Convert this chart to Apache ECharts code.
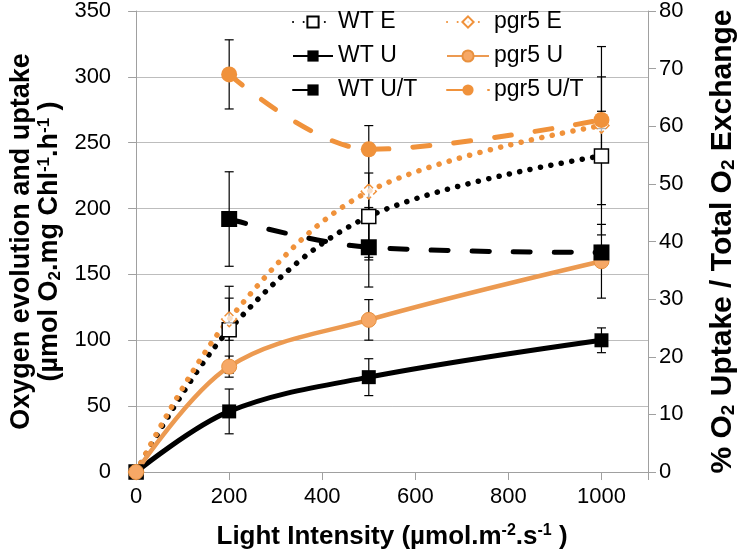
<!DOCTYPE html>
<html><head><meta charset="utf-8">
<script src="https://cdn.jsdelivr.net/npm/echarts@6/dist/echarts.min.js"></script>
<style>html,body{margin:0;padding:0;background:#fff}#c{width:746px;height:556px}</style>
</head><body><div id="c"></div>
<script>
// ---- data ----
const lightX = [0, 200, 500, 1000];
const ratioX = [200, 500, 1000];

const wtE = [0, 108, 194, 240];
const wtU = [0, 46, 72, 100];
const pgr5E = [0, 116, 213, 263];
const pgr5U = [0, 80, 115.5, 160];

const wtUT = [43.9, 39.0, 38.1];
const pgr5UT = [69.0, 56.0, 61.1];

const wtEErr = [0, 33, 33, 60];
const wtUErr = [0, 17, 14, 9.4];
const pgr5EErr = [0, 16, 50, 60];
const pgr5UErr = [0, 8, 15.4, 28];
const wtUTErr = [8.2, 6.9, 1.2];
const pgr5UTErr = [6, 1, 1.5];

const leftTicks = {min: 0, max: 350, interval: 50};
const rightTicks = {min: 0, max: 80, interval: 10};
const xTicks = {min: 0, max: 1100, interval: 200};

// ---- styling ----
const FONT = '"Liberation Sans", Arial, sans-serif';
const ORANGE = '#F0923B';
const AXIS_GRAY = '#A0A0A0';

function pairs(xs, ys) { return xs.map((x, i) => [x, ys[i]]); }
function bars(xs, ys, es) {
  const out = [];
  xs.forEach((x, i) => { if (es[i] > 0) out.push([x, ys[i] - es[i], ys[i] + es[i]]); });
  return out;
}
function errRender(params, api) {
  const x = api.value(0);
  const lo = api.coord([x, api.value(1)]);
  const hi = api.coord([x, api.value(2)]);
  const hw = 4.5;
  const style = {stroke: '#000', lineWidth: 1.2};
  return {type: 'group', children: [
    {type: 'line', shape: {x1: lo[0], y1: lo[1], x2: hi[0], y2: hi[1]}, style},
    {type: 'line', shape: {x1: lo[0] - hw, y1: lo[1], x2: lo[0] + hw, y2: lo[1]}, style},
    {type: 'line', shape: {x1: hi[0] - hw, y1: hi[1], x2: hi[0] + hw, y2: hi[1]}, style}
  ]};
}

function richName(size) {
  const bold = {fontFamily: FONT, fontWeight: 'bold', color: '#000'};
  return {
    b: Object.assign({fontSize: size, lineHeight: size + 1}, bold),
    sub: Object.assign({fontSize: Math.round(size * 0.62), lineHeight: Math.round(size * 0.62), verticalAlign: 'bottom'}, bold),
    sup: Object.assign({fontSize: Math.round(size * 0.62), lineHeight: Math.round(size * 0.62), verticalAlign: 'top'}, bold)
  };
}

const SMOOTH = 0.35;
const dotted = [0.1, 10.5];
const dashed = [17, 24];

const chart = echarts.init(document.getElementById('c'), null, {renderer: 'canvas'});
chart.setOption({
  animation: false,
  backgroundColor: '#fff',
  grid: {left: 133, right: 90, top: 9, bottom: 84, containLabel: false},
  legend: [
    {data: ['WT E', 'WT U', 'WT U/T'], left: 287, top: 5, orient: 'vertical',
     itemWidth: 40, itemHeight: 14, itemGap: 10, selectedMode: false,
     textStyle: {fontSize: 23, lineHeight: 24, fontFamily: FONT, color: '#000'}},
    {data: ['pgr5 E', 'pgr5 U', 'pgr5 U/T'], left: 441, top: 5, orient: 'vertical',
     itemWidth: 42, itemHeight: 14, itemGap: 10, selectedMode: false,
     textStyle: {fontSize: 23, lineHeight: 24, fontFamily: FONT, color: '#000'}}
  ],
  xAxis: {
    type: 'value', min: xTicks.min, max: xTicks.max, interval: xTicks.interval,
    name: '{b|Light Intensity (µmol.m}{sup|-2}{b|.s}{sup|-1}{b| )}',
    nameLocation: 'middle', nameGap: 51, nameTextStyle: {rich: richName(26)},
    axisLine: {lineStyle: {color: AXIS_GRAY, width: 1}},
    axisTick: {show: true, inside: false, length: 8, lineStyle: {color: AXIS_GRAY}},
    axisLabel: {fontSize: 22, fontFamily: FONT, color: '#000', margin: 14,
                formatter: v => (v === xTicks.max ? '' : String(v))},
    splitLine: {show: false}
  },
  yAxis: [
    {
      type: 'value', position: 'left', min: leftTicks.min, max: leftTicks.max, interval: leftTicks.interval,
      name: '{b|Oxygen evolution and uptake}\n{b|(µmol O}{sub|2}{b|.mg Chl}{sup|-1}{b|.h}{sup|-1}{b| )}',
      nameLocation: 'middle', nameGap: 70, nameTextStyle: {rich: richName(27), align: 'center'},
      axisLine: {show: true, lineStyle: {color: AXIS_GRAY, width: 1}},
      axisTick: {show: true, inside: false, length: 8, lineStyle: {color: AXIS_GRAY}},
      axisLabel: {fontSize: 22, fontFamily: FONT, color: '#000', margin: 25},
      splitLine: {show: true, lineStyle: {color: '#BDBDBD', width: 1}}
    },
    {
      type: 'value', position: 'right', min: rightTicks.min, max: rightTicks.max, interval: rightTicks.interval,
      name: '{b|% O}{sub|2}{b| Uptake / Total O}{sub|2}{b| Exchange}',
      nameLocation: 'middle', nameGap: 59, nameTextStyle: {rich: richName(30)},
      axisLine: {show: true, lineStyle: {color: AXIS_GRAY, width: 1}},
      axisTick: {show: true, inside: false, length: 8, lineStyle: {color: AXIS_GRAY}},
      axisLabel: {fontSize: 22, fontFamily: FONT, color: '#000', margin: 11},
      splitLine: {show: false}
    }
  ],
  series: [
    {type: 'custom', name: 'errLeft', yAxisIndex: 0, z: 1, silent: true,
     encode: {x: 0, y: [1, 2]}, renderItem: errRender,
     data: [].concat(bars(lightX, wtE, wtEErr), bars(lightX, wtU, wtUErr),
                     bars(lightX, pgr5E, pgr5EErr), bars(lightX, pgr5U, pgr5UErr))},
    {type: 'custom', name: 'errRight', yAxisIndex: 1, z: 1, silent: true,
     encode: {x: 0, y: [1, 2]}, renderItem: errRender,
     data: [].concat(bars(ratioX, wtUT, wtUTErr), bars(ratioX, pgr5UT, pgr5UTErr))},
    {name: 'WT E', type: 'line', yAxisIndex: 0, smooth: SMOOTH, z: 3,
     data: pairs(lightX, wtE), symbol: 'rect', symbolSize: 14,
     itemStyle: {color: '#fff', borderColor: '#000', borderWidth: 1.5},
     lineStyle: {color: '#000', width: 5.5, type: dotted, cap: 'round'}},
    {name: 'WT U', type: 'line', yAxisIndex: 0, smooth: SMOOTH, z: 3,
     data: pairs(lightX, wtU), symbol: 'rect', symbolSize: 14,
     itemStyle: {color: '#000'},
     lineStyle: {color: '#000', width: 5}},
    {name: 'pgr5 E', type: 'line', yAxisIndex: 0, smooth: SMOOTH, z: 3,
     data: pairs(lightX, pgr5E), symbol: 'diamond', symbolSize: 15,
     itemStyle: {color: 'rgba(255,255,255,0.7)', borderColor: ORANGE, borderWidth: 1.5, borderType: 'dashed'},
     lineStyle: {color: ORANGE, width: 5.5, type: dotted, cap: 'round'}},
    {name: 'pgr5 U', type: 'line', yAxisIndex: 0, smooth: SMOOTH, z: 3,
     data: pairs(lightX, pgr5U), symbol: 'circle', symbolSize: 15,
     itemStyle: {color: '#F6A866', borderColor: '#E8913F', borderWidth: 1},
     lineStyle: {color: '#EC9A51', width: 4.5}},
    {name: 'WT U/T', type: 'line', yAxisIndex: 1, smooth: SMOOTH, z: 3,
     data: pairs(ratioX, wtUT), symbol: 'rect', symbolSize: 16,
     itemStyle: {color: '#000'},
     lineStyle: {color: '#000', width: 5, type: dashed, cap: 'round'}},
    {name: 'pgr5 U/T', type: 'line', yAxisIndex: 1, smooth: SMOOTH, z: 3,
     data: pairs(ratioX, pgr5UT), symbol: 'circle', symbolSize: 16,
     itemStyle: {color: ORANGE},
     lineStyle: {color: ORANGE, width: 5, type: dashed, cap: 'round'}}
  ]
});
</script>
</body></html>
